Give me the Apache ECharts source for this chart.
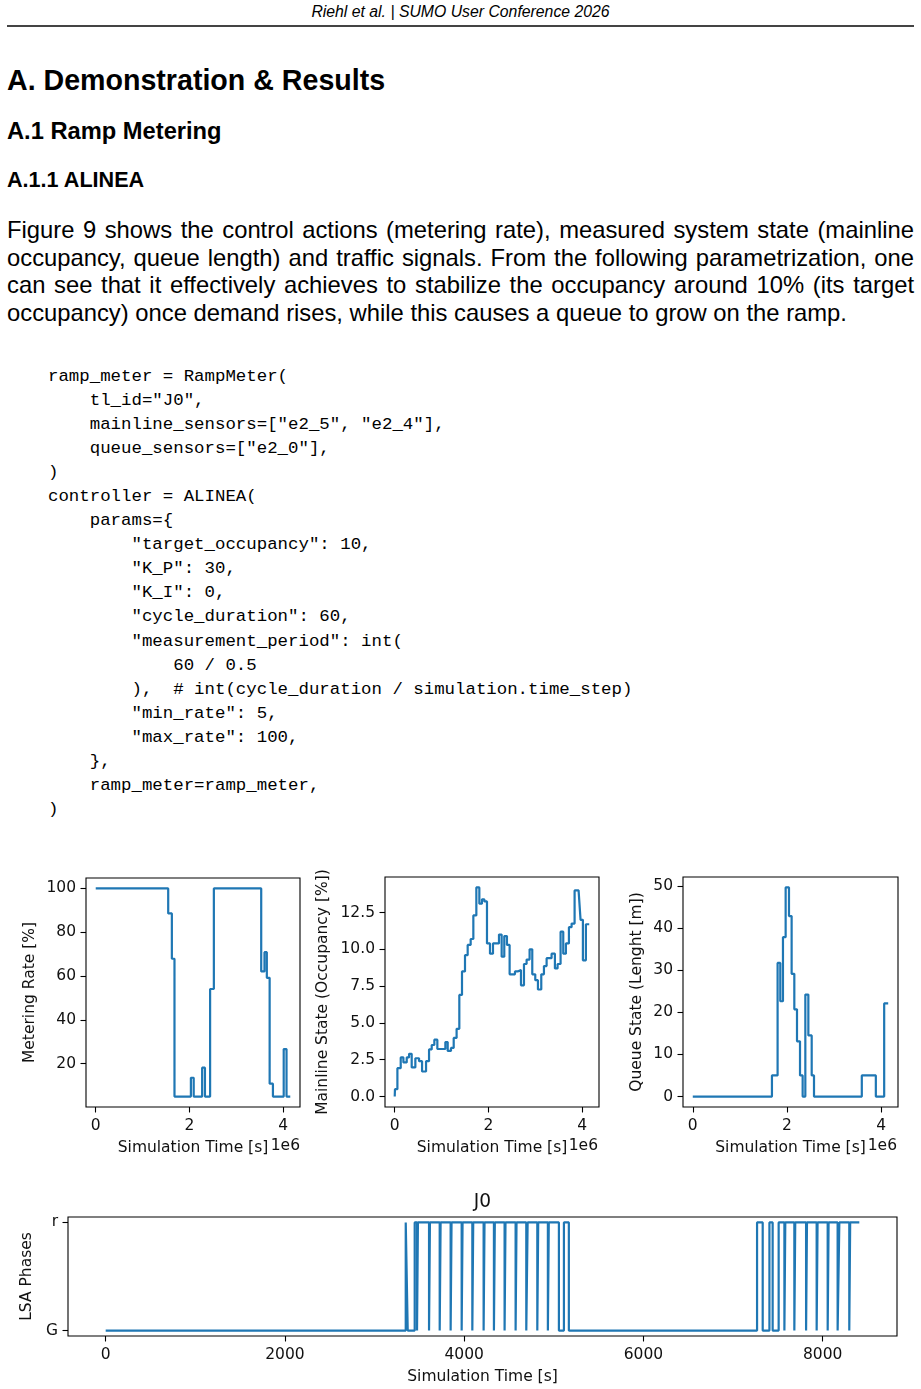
<!DOCTYPE html>
<html><head><meta charset="utf-8">
<script src="https://cdn.jsdelivr.net/npm/echarts@6/dist/echarts.min.js"></script>
<style>
html,body{margin:0;padding:0;background:#fff;width:921px;height:1389px;overflow:hidden;position:relative;}
.abs{position:absolute;white-space:nowrap;color:#000;font-family:'Liberation Sans',Arial,sans-serif;}
.para{position:absolute;left:7px;width:907px;font-family:'Liberation Sans',Arial,sans-serif;font-size:23.8px;line-height:27.7px;color:#000;}
.jl{text-align:justify;text-align-last:justify;}
pre.code{position:absolute;left:48px;top:365px;margin:0;font-family:'Liberation Mono',monospace;font-size:17.4px;line-height:24.05px;color:#000;}
#fig{position:absolute;left:0;top:850px;width:921px;height:539px;}
</style></head><body>
<div class="abs" style="left:0;width:921px;top:2px;text-align:center;font-style:italic;font-size:15.8px;line-height:20px;">Riehl et al. | SUMO User Conference 2026</div>
<div style="position:absolute;left:7px;top:25px;width:907px;height:1.5px;background:#444;"></div>
<div class="abs" style="left:7px;top:63px;font-weight:bold;font-size:28.6px;line-height:34px;">A. Demonstration &amp; Results</div>
<div class="abs" style="left:7px;top:117px;font-weight:bold;font-size:23.7px;line-height:28px;">A.1 Ramp Metering</div>
<div class="abs" style="left:7px;top:167px;font-weight:bold;font-size:21.6px;line-height:26px;">A.1.1 ALINEA</div>
<div class="para" style="top:216px;">
<div class="jl">Figure 9 shows the control actions (metering rate), measured system state (mainline</div>
<div class="jl">occupancy, queue length) and traffic signals. From the following parametrization, one</div>
<div class="jl">can see that it effectively achieves to stabilize the occupancy around 10% (its target</div>
<div>occupancy) once demand rises, while this causes a queue to grow on the ramp.</div>
</div>
<pre class="code">ramp_meter = RampMeter(
    tl_id="J0",
    mainline_sensors=["e2_5", "e2_4"],
    queue_sensors=["e2_0"],
)
controller = ALINEA(
    params={
        "target_occupancy": 10,
        "K_P": 30,
        "K_I": 0,
        "cycle_duration": 60,
        "measurement_period": int(
            60 / 0.5
        ),  # int(cycle_duration / simulation.time_step)
        "min_rate": 5,
        "max_rate": 100,
    },
    ramp_meter=ramp_meter,
)</pre>
<div id="fig"></div>
<script>
// ---- Data (times of charts 1-3 in units of 1e6 s; value holds until next time) ----
const meterTime = [0, 1.546, 1.624, 1.68, 2.03, 2.09, 2.27, 2.33, 2.44, 2.52, 3.53, 3.60, 3.65, 3.71, 3.78, 4.01, 4.07, 4.15];
const meterRate = [100, 88.6, 67.9, 5, 13.6, 5, 18.2, 5, 54.1, 100, 62.1, 70.9, 59.2, 10.9, 5, 26.7, 5, 5];

const occTime = [0, 0.005, 0.057, 0.128, 0.185, 0.256, 0.306, 0.362, 0.44, 0.519, 0.583, 0.668, 0.732, 0.789, 0.845, 0.909, 1.08, 1.13, 1.20, 1.258, 1.32, 1.378, 1.435, 1.499, 1.556, 1.62, 1.677, 1.741, 1.805, 1.861, 1.911, 1.968, 2.032, 2.096, 2.224, 2.281, 2.337, 2.394, 2.451, 2.565, 2.622, 2.693, 2.757, 2.813, 2.877, 2.934, 2.998, 3.055, 3.126, 3.183, 3.24, 3.346, 3.417, 3.474, 3.538, 3.595, 3.652, 3.716, 3.773, 3.837, 3.922, 3.964, 4.014, 4.078, 4.149];
const occValue = [0, 0.5, 1.93, 2.66, 2.32, 2.66, 2.9, 1.98, 2.6, 2.4, 1.7, 2.4, 3.2, 3.5, 3.86, 3.23, 3.7, 3.1, 3.3, 3.98, 4.6, 6.9, 8.5, 9.6, 10.3, 10.7, 12.3, 14.2, 13.1, 13.4, 13.25, 10.4, 9.7, 10.4, 11.0, 9.5, 10.9, 10.3, 8.3, 8.5, 8.6, 7.55, 9.0, 9.3, 10.0, 8.3, 7.9, 7.27, 8.3, 8.86, 9.4, 9.7, 8.7, 9.0, 11.2, 9.7, 10.4, 11.5, 11.75, 14.0, 13.9, 12.0, 9.25, 11.7, 11.7];

const queueTime = [0, 1.681, 1.801, 1.858, 1.915, 1.972, 2.043, 2.099, 2.156, 2.213, 2.277, 2.333, 2.39, 2.454, 2.525, 2.574, 3.589, 3.887, 4.064, 4.149];
const queueLength = [0, 5, 31.7, 22.6, 37.8, 49.6, 42.8, 29.1, 20.7, 13.1, 5, 0, 24.2, 14.5, 5, 0, 5, 0, 22.1, 22.1];

const lsaLevels = ['G', 'r'];
const lsaTime = [0, 3348, 3370, 3448, 3474, 3484, 3608, 3618, 3727, 3737, 3849, 3859, 3972, 3982, 4091, 4101, 4217, 4227, 4332, 4342, 4451, 4461, 4574, 4584, 4693, 4708, 4816, 4826, 4934, 4944, 5057, 5113, 5168, 7268, 7331, 7406, 7442, 7509, 7573, 7583, 7684, 7694, 7815, 7825, 7933, 7943, 8056, 8066, 8167, 8186, 8297, 8307, 8409];
const lsaState = ['G','r','G','r','G','r','G','r','G','r','G','r','G','r','G','r','G','r','G','r','G','r','G','r','G','r','G','r','G','r','G','r','G','r','G','r','G','r','G','r','G','r','G','r','G','r','G','r','G','r','G','r','r'];

const smallXTicks = [0, 2, 4];
const meterYTicks = [20, 40, 60, 80, 100];
const occYTicks = [0, 2.5, 5, 7.5, 10, 12.5];
const queueYTicks = [0, 10, 20, 30, 40, 50];
const lsaXTicks = [0, 2000, 4000, 6000, 8000];
const lsaYTicks = [0, 1];

// ---- helpers ----
function steps(ts, vs) {
  const out = [];
  for (let i = 0; i < ts.length; i++) {
    out.push([ts[i], vs[i]]);
    if (i < ts.length - 1) out.push([ts[i + 1], vs[i]]);
  }
  return out;
}
function pad(arr) {
  const lo = Math.min(...arr), hi = Math.max(...arr), d = (hi - lo) * 0.05;
  return [lo - d, hi + d];
}
const FONT = 'DejaVu Sans';
const TXT = '#111';
const FS = 15.5;
function xAxis(gi, range, ticks, fmt, name) {
  return {
    type: 'value', gridIndex: gi, min: range[0], max: range[1], position: 'bottom',
    axisLine: {show: false, onZero: false}, splitLine: {show: false},
    axisTick: {show: true, customValues: ticks, length: 5.5, lineStyle: {color: '#000', width: 1.1}},
    axisLabel: {customValues: ticks, formatter: fmt, margin: 11, color: TXT, fontFamily: FONT, fontSize: FS},
    name: name, nameLocation: 'middle', nameGap: 33,
    nameTextStyle: {color: TXT, fontFamily: FONT, fontSize: FS}
  };
}
function yAxis(gi, range, ticks, fmt, name, gap) {
  return {
    type: 'value', gridIndex: gi, min: range[0], max: range[1], position: 'left',
    axisLine: {show: false, onZero: false}, splitLine: {show: false},
    axisTick: {show: true, customValues: ticks, length: 5.5, lineStyle: {color: '#000', width: 1.1}},
    axisLabel: {customValues: ticks, formatter: fmt, margin: 10, color: TXT, fontFamily: FONT, fontSize: FS},
    name: name, nameLocation: 'middle', nameRotate: 90, nameGap: gap,
    nameTextStyle: {color: TXT, fontFamily: FONT, fontSize: FS}
  };
}
function series(i, data) {
  return {type: 'line', xAxisIndex: i, yAxisIndex: i, data: data, showSymbol: false, symbol: 'none',
    lineStyle: {color: '#1f77b4', width: 2.2}, itemStyle: {color: '#1f77b4'}, silent: true, animation: false};
}
const gridStyle = {show: true, borderColor: '#000', borderWidth: 1.1, backgroundColor: 'transparent'};

const xSmall = pad([].concat(meterTime, occTime, queueTime));
const lsaNum = lsaState.map(s => lsaLevels.indexOf(s));

const chart = echarts.init(document.getElementById('fig'), null, {renderer: 'canvas'});
chart.setOption({
  animation: false,
  grid: [
    Object.assign({left: 86, top: 28, width: 214, height: 229}, gridStyle),
    Object.assign({left: 385, top: 27, width: 214, height: 230}, gridStyle),
    Object.assign({left: 683, top: 27, width: 215, height: 230}, gridStyle),
    Object.assign({left: 68, top: 367, width: 829, height: 119}, gridStyle)
  ],
  xAxis: [
    xAxis(0, xSmall, smallXTicks, v => String(v), 'Simulation Time [s]'),
    xAxis(1, xSmall, smallXTicks, v => String(v), 'Simulation Time [s]'),
    xAxis(2, xSmall, smallXTicks, v => String(v), 'Simulation Time [s]'),
    xAxis(3, pad(lsaTime), lsaXTicks, v => String(v), 'Simulation Time [s]')
  ],
  yAxis: [
    yAxis(0, pad(meterRate), meterYTicks, v => String(v), 'Metering Rate [%]', 48),
    yAxis(1, pad(occValue), occYTicks, v => v.toFixed(1), 'Mainline State (Occupancy [%])', 54),
    yAxis(2, pad(queueLength), queueYTicks, v => String(v), 'Queue State (Lenght [m])', 38),
    yAxis(3, pad(lsaNum), lsaYTicks, v => lsaLevels[Math.round(v)], 'LSA Phases', 31)
  ],
  graphic: [
    {type: 'text', x: 300, y: 296, style: {text: '1e6', align: 'right', verticalAlign: 'middle', textAlign: 'right', textVerticalAlign: 'middle', fontFamily: FONT, fontSize: FS, fill: TXT}},
    {type: 'text', x: 598, y: 296, style: {text: '1e6', align: 'right', verticalAlign: 'middle', textAlign: 'right', textVerticalAlign: 'middle', fontFamily: FONT, fontSize: FS, fill: TXT}},
    {type: 'text', x: 897, y: 296, style: {text: '1e6', align: 'right', verticalAlign: 'middle', textAlign: 'right', textVerticalAlign: 'middle', fontFamily: FONT, fontSize: FS, fill: TXT}},
    {type: 'text', x: 482.5, y: 352, style: {text: 'J0', align: 'center', verticalAlign: 'middle', textAlign: 'center', textVerticalAlign: 'middle', fontFamily: FONT, fontSize: 18.6, fill: TXT}}
  ],
  series: [
    series(0, steps(meterTime, meterRate)),
    series(1, steps(occTime, occValue)),
    series(2, steps(queueTime, queueLength)),
    series(3, steps(lsaTime, lsaNum))
  ]
});
</script>
</body></html>
